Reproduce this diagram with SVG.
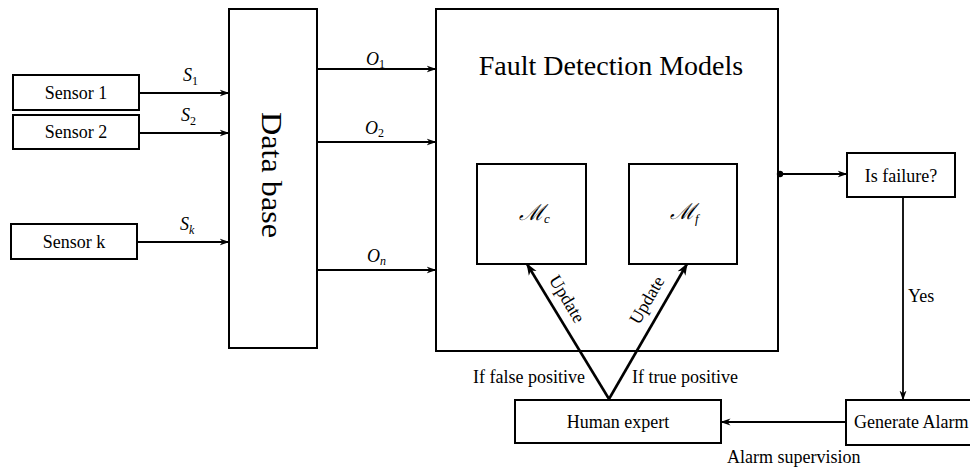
<svg xmlns="http://www.w3.org/2000/svg" width="970" height="471" viewBox="0 0 970 471">
<defs>
<marker id="arr" viewBox="0 0 10 8" refX="9.5" refY="4" markerWidth="10" markerHeight="8" markerUnits="userSpaceOnUse" orient="auto">
<path d="M0,0.5 L10,4 L0,7.5 L3,4 z" fill="#000"/>
</marker>
<marker id="arrB" viewBox="0 0 12 10" refX="11" refY="5" markerWidth="12" markerHeight="10" markerUnits="userSpaceOnUse" orient="auto">
<path d="M0,0.5 L12,5 L0,9.5 L3.5,5 z" fill="#000"/>
</marker>
</defs>
<style>
rect{fill:#fff;stroke:#000;stroke-width:2}
.n{font-size:18px;text-anchor:middle}
.m{font-style:italic;font-size:18px}
.c{stroke:#000;stroke-width:1.8;fill:none}
.u{stroke:#000;stroke-width:2.6;fill:none}
</style>
<g font-family="Liberation Serif, serif" fill="#000">
<g id="sensor1"><rect x="13" y="75" width="126" height="35"/><text class="n" x="76" y="99">Sensor 1</text></g>
<g id="sensor2"><rect x="13" y="115" width="126" height="34"/><text class="n" x="76" y="138">Sensor 2</text></g>
<g id="sensork"><rect x="11" y="224" width="126" height="35"/><text class="n" x="74" y="248">Sensor k</text></g>
<g id="database"><rect x="229" y="9" width="88" height="339"/><text x="0" y="0" transform="translate(262,175) rotate(90)" font-size="29" text-anchor="middle" textLength="126" lengthAdjust="spacingAndGlyphs">Data base</text></g>
<g id="fdm"><rect x="436" y="9" width="342" height="342"/><text x="611" y="75" font-size="28" text-anchor="middle">Fault Detection Models</text></g>
<g id="mc"><rect x="477" y="164" width="109" height="100"/><text x="519" y="220" font-size="22" font-family="DejaVu Serif, serif" font-style="italic">ℳ<tspan font-size="13" font-family="Liberation Serif, serif" dy="3">c</tspan></text></g>
<g id="mf"><rect x="629" y="164" width="108" height="100"/><text x="670" y="219" font-size="22" font-family="DejaVu Serif, serif" font-style="italic">ℳ<tspan font-size="13" font-family="Liberation Serif, serif" dy="4">f</tspan></text></g>
<g id="isfailure"><rect x="847" y="153" width="108" height="44"/><text class="n" x="901" y="182">Is failure?</text></g>
<g id="generatealarm"><rect x="846" y="400" width="135" height="45"/><text x="854" y="428" font-size="18">Generate Alarm</text></g>
<g id="humanexpert"><rect x="515" y="400" width="206" height="43"/><text class="n" x="618" y="428">Human expert</text></g>
<g id="connectors">
<line class="c" x1="139" y1="93" x2="229" y2="93" marker-end="url(#arr)"/>
<line class="c" x1="139" y1="133" x2="229" y2="133" marker-end="url(#arr)"/>
<line class="c" x1="137" y1="242" x2="229" y2="242" marker-end="url(#arr)"/>
<text class="m" x="183" y="81">S<tspan font-size="12" font-style="normal" dy="4">1</tspan></text>
<text class="m" x="181" y="121">S<tspan font-size="12" font-style="normal" dy="4">2</tspan></text>
<text class="m" x="180" y="230">S<tspan font-size="12" dy="4">k</tspan></text>
<line class="c" x1="317" y1="69" x2="436" y2="69" marker-end="url(#arr)"/>
<line class="c" x1="317" y1="142" x2="436" y2="142" marker-end="url(#arr)"/>
<line class="c" x1="317" y1="270" x2="436" y2="270" marker-end="url(#arr)"/>
<text class="m" x="366" y="65">O<tspan font-size="12" font-style="normal" dy="3">1</tspan></text>
<text class="m" x="365" y="134">O<tspan font-size="12" font-style="normal" dy="3">2</tspan></text>
<text class="m" x="367" y="262">O<tspan font-size="12" dy="3">n</tspan></text>
<circle cx="780" cy="174" r="3.2" fill="#000"/>
<line class="c" x1="780" y1="174" x2="847" y2="174" marker-end="url(#arr)"/>
<line class="c" x1="903" y1="197" x2="903" y2="400" marker-end="url(#arr)"/>
<text x="908" y="302" font-size="18">Yes</text>
<line class="c" x1="846" y1="422" x2="721" y2="422" marker-end="url(#arr)"/>
<text x="727" y="463" font-size="18">Alarm supervision</text>
<line class="u" x1="609" y1="399" x2="527" y2="264" marker-end="url(#arrB)"/>
<line class="u" x1="609" y1="399" x2="687" y2="264" marker-end="url(#arrB)"/>
<text x="0" y="0" font-size="18" text-anchor="middle" transform="translate(562,302) rotate(58.7)">Update</text>
<text x="0" y="0" font-size="18" text-anchor="middle" transform="translate(652,303) rotate(-60)">Update</text>
<text x="585" y="383" font-size="18" text-anchor="end">If false positive</text>
<text x="632" y="383" font-size="18">If true positive</text>
</g>
</g>
</svg>
